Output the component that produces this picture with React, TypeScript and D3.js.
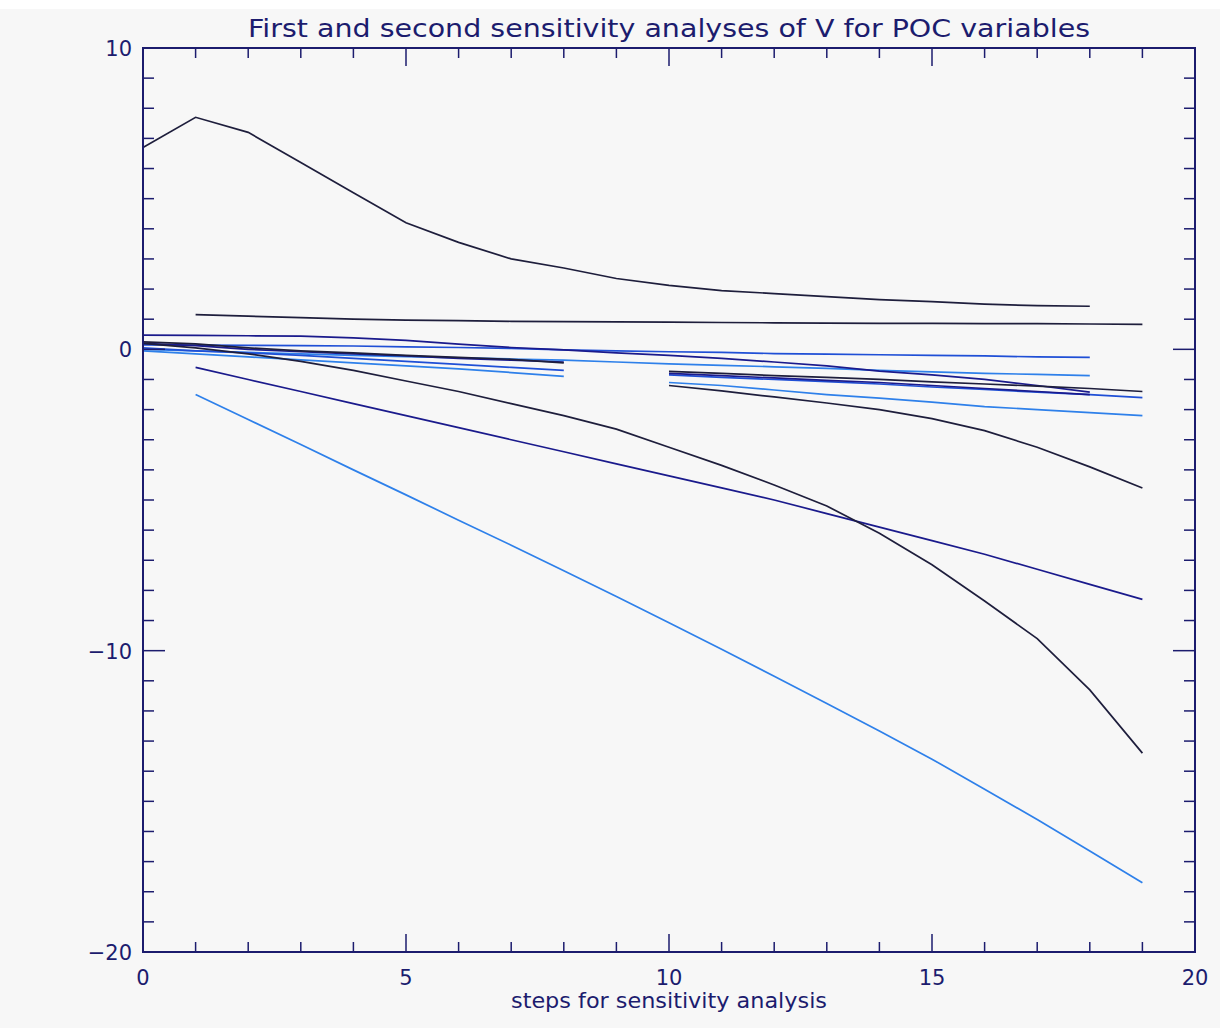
import React from "react";
import * as d3 from "d3";

const TITLE = "First and second sensitivity analyses of V for POC variables";
const X_TITLE = "steps for sensitivity analysis";
const X_TICKS = [0, 5, 10, 15, 20];
const Y_TICKS = [10, 0, -10, -20];

const COLOR_BLACK = "#1e1e3c";
const COLOR_NAVY = "#1a1a8c";
const COLOR_BLUE = "#1f4fd6";
const COLOR_LIGHT = "#2e80ea";

// each series: start step and values
const topCurve = [6.7, 7.7, 7.2, 6.2, 5.2, 4.2, 3.55, 3.0, 2.7, 2.35, 2.12, 1.95, 1.85, 1.75, 1.65, 1.58, 1.5, 1.45, 1.43];
const blackFlat = [1.15, 1.1, 1.05, 1.0, 0.97, 0.95, 0.93, 0.92, 0.91, 0.9, 0.89, 0.88, 0.87, 0.86, 0.86, 0.85, 0.85, 0.84, 0.83];
const navyLong = [0.47, 0.46, 0.45, 0.44, 0.38, 0.3, 0.17, 0.06, -0.02, -0.12, -0.2, -0.3, -0.42, -0.55, -0.72, -0.85, -1.0, -1.2, -1.42];
const blueLong = [0.15, 0.14, 0.13, 0.12, 0.11, 0.08, 0.06, 0.03, -0.02, -0.05, -0.08, -0.1, -0.14, -0.16, -0.18, -0.2, -0.22, -0.25, -0.27];
const lightLong = [0.0, -0.05, -0.1, -0.15, -0.2, -0.24, -0.28, -0.32, -0.36, -0.42, -0.48, -0.53, -0.58, -0.63, -0.7, -0.75, -0.8, -0.83, -0.87];
const blackCurve = [0.2, 0.05, -0.15, -0.4, -0.7, -1.05, -1.4, -1.8, -2.2, -2.65, -3.25, -3.85, -4.5, -5.2, -6.1, -7.15, -8.35, -9.6, -11.3, -13.4];
const navySlope = [-0.6, -1.0, -1.4, -1.8, -2.2, -2.6, -3.0, -3.4, -3.8, -4.2, -4.6, -5.0, -5.45, -5.9, -6.35, -6.8, -7.3, -7.8, -8.3];
const lightSteep = [-1.5, -2.33, -3.16, -4.0, -4.83, -5.67, -6.5, -7.35, -8.2, -9.07, -9.95, -10.85, -11.75, -12.67, -13.6, -14.6, -15.6, -16.65, -17.7];
const blackShort = [0.25, 0.18, 0.05, -0.05, -0.12, -0.2, -0.27, -0.33, -0.45];
const navyShort = [0.2, 0.12, 0.0, -0.08, -0.15, -0.22, -0.3, -0.36, -0.42];
const blueShort = [0.05, -0.05, -0.12, -0.2, -0.3, -0.4, -0.5, -0.6, -0.7];
const lightShort = [-0.05, -0.15, -0.25, -0.35, -0.45, -0.55, -0.65, -0.77, -0.9];
const blackSecond = [-0.73, -0.8, -0.87, -0.93, -1.0, -1.08, -1.15, -1.22, -1.3, -1.4];
const blueSecond = [-0.85, -0.93, -1.0, -1.07, -1.15, -1.25, -1.33, -1.42, -1.5, -1.6];
const navySecond = [-0.8, -0.87, -0.95, -1.03, -1.1, -1.2, -1.3, -1.4, -1.5];
const lightSecond = [-1.1, -1.2, -1.35, -1.5, -1.62, -1.75, -1.9, -2.0, -2.1, -2.2];
const blackSecondCurve = [-1.2, -1.38, -1.58, -1.78, -2.0, -2.3, -2.7, -3.25, -3.9, -4.6];

const SERIES = [
  { start: 0, values: topCurve, color: COLOR_BLACK },
  { start: 1, values: blackFlat, color: COLOR_BLACK },
  { start: 0, values: blueLong, color: COLOR_BLUE },
  { start: 0, values: lightLong, color: COLOR_LIGHT },
  { start: 0, values: navyLong, color: COLOR_NAVY },
  { start: 0, values: lightShort, color: COLOR_LIGHT },
  { start: 0, values: blueShort, color: COLOR_BLUE },
  { start: 0, values: navyShort, color: COLOR_NAVY },
  { start: 0, values: blackShort, color: COLOR_BLACK },
  { start: 10, values: lightSecond, color: COLOR_LIGHT },
  { start: 10, values: blueSecond, color: COLOR_BLUE },
  { start: 10, values: navySecond, color: COLOR_NAVY },
  { start: 10, values: blackSecond, color: COLOR_BLACK },
  { start: 10, values: blackSecondCurve, color: COLOR_BLACK },
  { start: 1, values: lightSteep, color: COLOR_LIGHT },
  { start: 1, values: navySlope, color: COLOR_NAVY },
  { start: 0, values: blackCurve, color: COLOR_BLACK },
];

const AXIS = "#1c1c6e";

export default function App() {
  const W = 1220, H = 1028;
  const left = 143, right = 1195, top = 48, bottom = 952;
  const x = d3.scaleLinear().domain([0, 20]).range([left, right]);
  const y = d3.scaleLinear().domain([-20, 10]).range([bottom, top]);
  const line = d3.line<[number, number]>().x((d) => x(d[0])).y((d) => y(d[1]));

  const xMinor = d3.range(0, 21, 1);
  const yMinor = d3.range(-20, 11, 1);
  const font = "'DejaVu Sans', sans-serif";

  return (
    <svg width={W} height={H} style={{ position: "absolute", left: 0, top: 0 }}>
      <rect x={0} y={0} width={W} height={H} fill="#ffffff" />
      <rect x={0} y={9} width={W} height={H - 9} fill="#f7f7f7" />
      <text x={669} y={37} textAnchor="middle" fontFamily={font} fontSize={25} fill={AXIS} textLength={842} lengthAdjust="spacingAndGlyphs">
        {TITLE}
      </text>
      <g>
        {SERIES.map((s, i) => (
          <path
            key={i}
            d={line(s.values.map((v, j) => [s.start + j, v]))!}
            fill="none"
            stroke={s.color}
            strokeWidth={1.7}
          />
        ))}
      </g>
      <rect x={left} y={top} width={right - left} height={bottom - top} fill="none" stroke={AXIS} strokeWidth={2} />
      {xMinor.map((t) => {
        const len = t % 5 === 0 ? 18 : 10;
        return (
          <g key={"xt" + t}>
            <line x1={x(t)} x2={x(t)} y1={bottom} y2={bottom - len} stroke={AXIS} strokeWidth={1.5} />
            <line x1={x(t)} x2={x(t)} y1={top} y2={top + len} stroke={AXIS} strokeWidth={1.5} />
          </g>
        );
      })}
      {yMinor.map((t) => {
        const len = t % 10 === 0 ? 22 : 11;
        return (
          <g key={"yt" + t}>
            <line x1={left} x2={left + len} y1={y(t)} y2={y(t)} stroke={AXIS} strokeWidth={1.5} />
            <line x1={right} x2={right - len} y1={y(t)} y2={y(t)} stroke={AXIS} strokeWidth={1.5} />
          </g>
        );
      })}
      {X_TICKS.map((t) => (
        <text key={"xl" + t} x={x(t)} y={985} textAnchor="middle" fontFamily={font} fontSize={21} fill={AXIS}>
          {t}
        </text>
      ))}
      {Y_TICKS.map((t) => (
        <text key={"yl" + t} x={132} y={y(t) + 8} textAnchor="end" fontFamily={font} fontSize={21} fill={AXIS}>
          {t < 0 ? "\u2212" + Math.abs(t) : t}
        </text>
      ))}
      <text x={669} y={1008} textAnchor="middle" fontFamily={font} fontSize={21} fill={AXIS} textLength={316} lengthAdjust="spacingAndGlyphs">
        {X_TITLE}
      </text>
    </svg>
  );
}
